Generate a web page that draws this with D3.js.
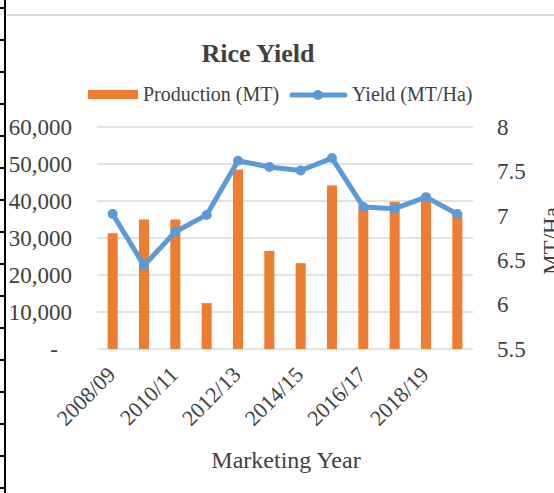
<!DOCTYPE html>
<html>
<meta charset="utf-8">
<title>Rice Yield</title>
<style>
html, body {
  margin: 0;
  background: #fff;
}
svg text {
  font-family: "Liberation Serif", "Times New Roman", serif;
  fill: #404040;
}
</style>
<svg></svg>
<script src="https://cdn.jsdelivr.net/npm/d3@7"></script>
<script>

var years = ["2008/09", "2009/10", "2010/11", "2011/12", "2012/13", "2013/14",
             "2014/15", "2015/16", "2016/17", "2017/18", "2018/19", "2019/20"];
var production = [31300, 35000, 35000, 12400, 48500, 26500,
                  23200, 44200, 38200, 39800, 41400, 36700];
var yieldVals = [7.02, 6.44, 6.82, 7.01, 7.62, 7.55,
                 7.51, 7.65, 7.10, 7.08, 7.21, 7.02];
var leftTicks = [0, 10000, 20000, 30000, 40000, 50000, 60000];
var rightTicks = [5.5, 6, 6.5, 7, 7.5, 8];

var W = 554, H = 493;
var svg = d3.select("svg").attr("width", W).attr("height", H);

svg.append("rect").attr("width", W).attr("height", H).attr("fill", "#fff");

// bits of the spreadsheet around the chart
svg.append("line")
    .attr("x1", 7).attr("x2", W).attr("y1", 15).attr("y2", 15)
    .attr("stroke", "#d9d9d9").attr("stroke-width", 2);
svg.append("line")
    .attr("x1", 5).attr("x2", 5).attr("y1", 0).attr("y2", H)
    .attr("stroke", "#000").attr("stroke-width", 2);
d3.range(8, H, 32).forEach(function(y) {
  svg.append("line")
      .attr("x1", 0).attr("x2", 5).attr("y1", y).attr("y2", y)
      .attr("stroke", "#000").attr("stroke-width", 2);
});

var margin = {left: 97, right: 473, top: 127, bottom: 349};

var x = d3.scaleBand().domain(years)
    .range([margin.left, margin.right])
    .paddingInner(0.68).paddingOuter(0.34);
var y = d3.scaleLinear().domain([0, 60000]).range([margin.bottom, margin.top]);
var y2 = d3.scaleLinear().domain([5.5, 8]).range([margin.bottom, margin.top]);

// gridlines
svg.append("g").selectAll("line")
    .data(leftTicks)
    .enter().append("line")
      .attr("x1", margin.left).attr("x2", margin.right)
      .attr("y1", function(d) { return y(d); })
      .attr("y2", function(d) { return y(d); })
      .attr("stroke", "#d9d9d9").attr("stroke-width", 1.7);

// left axis
var fmt = d3.format(",");
var gl = svg.append("g")
    .attr("transform", "translate(" + margin.left + ",0)")
    .call(d3.axisLeft(y).tickValues(leftTicks).tickSize(0).tickPadding(25)
      .tickFormat(function(d) { return d === 0 ? "-" : fmt(d); }));
gl.select(".domain").remove();
gl.selectAll("text")
    .style("font-size", "23px")
    .attr("fill", "#404040")
    .attr("dx", function(d) { return d === 0 ? -14 : 0; });

// right axis
var gr = svg.append("g")
    .attr("transform", "translate(" + margin.right + ",0)")
    .call(d3.axisRight(y2).tickValues(rightTicks).tickSize(0).tickPadding(24)
      .tickFormat(d3.format("")));
gr.select(".domain").remove();
gr.selectAll("text").style("font-size", "23px").attr("fill", "#404040");

// x axis
var gx = svg.append("g")
    .attr("transform", "translate(0," + margin.bottom + ")")
    .call(d3.axisBottom(x).tickSize(0)
      .tickValues(years.filter(function(d, i) { return i % 2 === 0; })));
gx.select(".domain").remove();
gx.selectAll("text")
    .style("font-size", "22px")
    .attr("fill", "#404040")
    .attr("text-anchor", "end")
    .attr("dy", 0)
    .attr("y", 0)
    .attr("transform", "translate(4,27) rotate(-45)");

// bars
svg.selectAll(".bar")
    .data(years)
    .enter().append("rect")
      .attr("class", "bar")
      .attr("x", function(d) { return x(d); })
      .attr("y", function(d, i) { return y(production[i]); })
      .attr("width", x.bandwidth())
      .attr("height", function(d, i) { return margin.bottom - y(production[i]); })
      .attr("fill", "#ed7d31");

// line + markers
var cx = function(d) { return x(d) + x.bandwidth() / 2; };
var line = d3.line()
    .x(function(d) { return cx(d); })
    .y(function(d, i) { return y2(yieldVals[i]); });
svg.append("path")
    .datum(years)
    .attr("d", line)
    .attr("fill", "none")
    .attr("stroke", "#5b9bd5")
    .attr("stroke-width", 5)
    .attr("stroke-linejoin", "round");
svg.selectAll(".dot")
    .data(years)
    .enter().append("circle")
      .attr("class", "dot")
      .attr("cx", cx)
      .attr("cy", function(d, i) { return y2(yieldVals[i]); })
      .attr("r", 5)
      .attr("fill", "#5b9bd5");

// title
svg.append("text")
    .attr("x", 258).attr("y", 62)
    .attr("text-anchor", "middle")
    .style("font-size", "26px").style("font-weight", "bold")
    .text("Rice Yield");

// legend
svg.append("rect").attr("x", 88).attr("y", 90).attr("width", 50).attr("height", 9)
    .attr("fill", "#ed7d31");
svg.append("text").attr("x", 143).attr("y", 101).style("font-size", "20px")
    .text("Production (MT)");
svg.append("line").attr("x1", 292).attr("x2", 345).attr("y1", 95).attr("y2", 95)
    .attr("stroke", "#5b9bd5").attr("stroke-width", 5).attr("stroke-linecap", "round");
svg.append("circle").attr("cx", 318).attr("cy", 95).attr("r", 5).attr("fill", "#5b9bd5");
svg.append("text").attr("x", 352).attr("y", 101).style("font-size", "20px")
    .text("Yield (MT/Ha)");

// axis titles
svg.append("text")
    .attr("x", 286).attr("y", 468)
    .attr("text-anchor", "middle")
    .style("font-size", "24px")
    .text("Marketing Year");
// the reference crops this title at the right edge too
svg.append("text")
    .attr("transform", "translate(559,241) rotate(-90)")
    .attr("text-anchor", "middle")
    .style("font-size", "23px")
    .text("MT/Ha");

</script>
</html>
